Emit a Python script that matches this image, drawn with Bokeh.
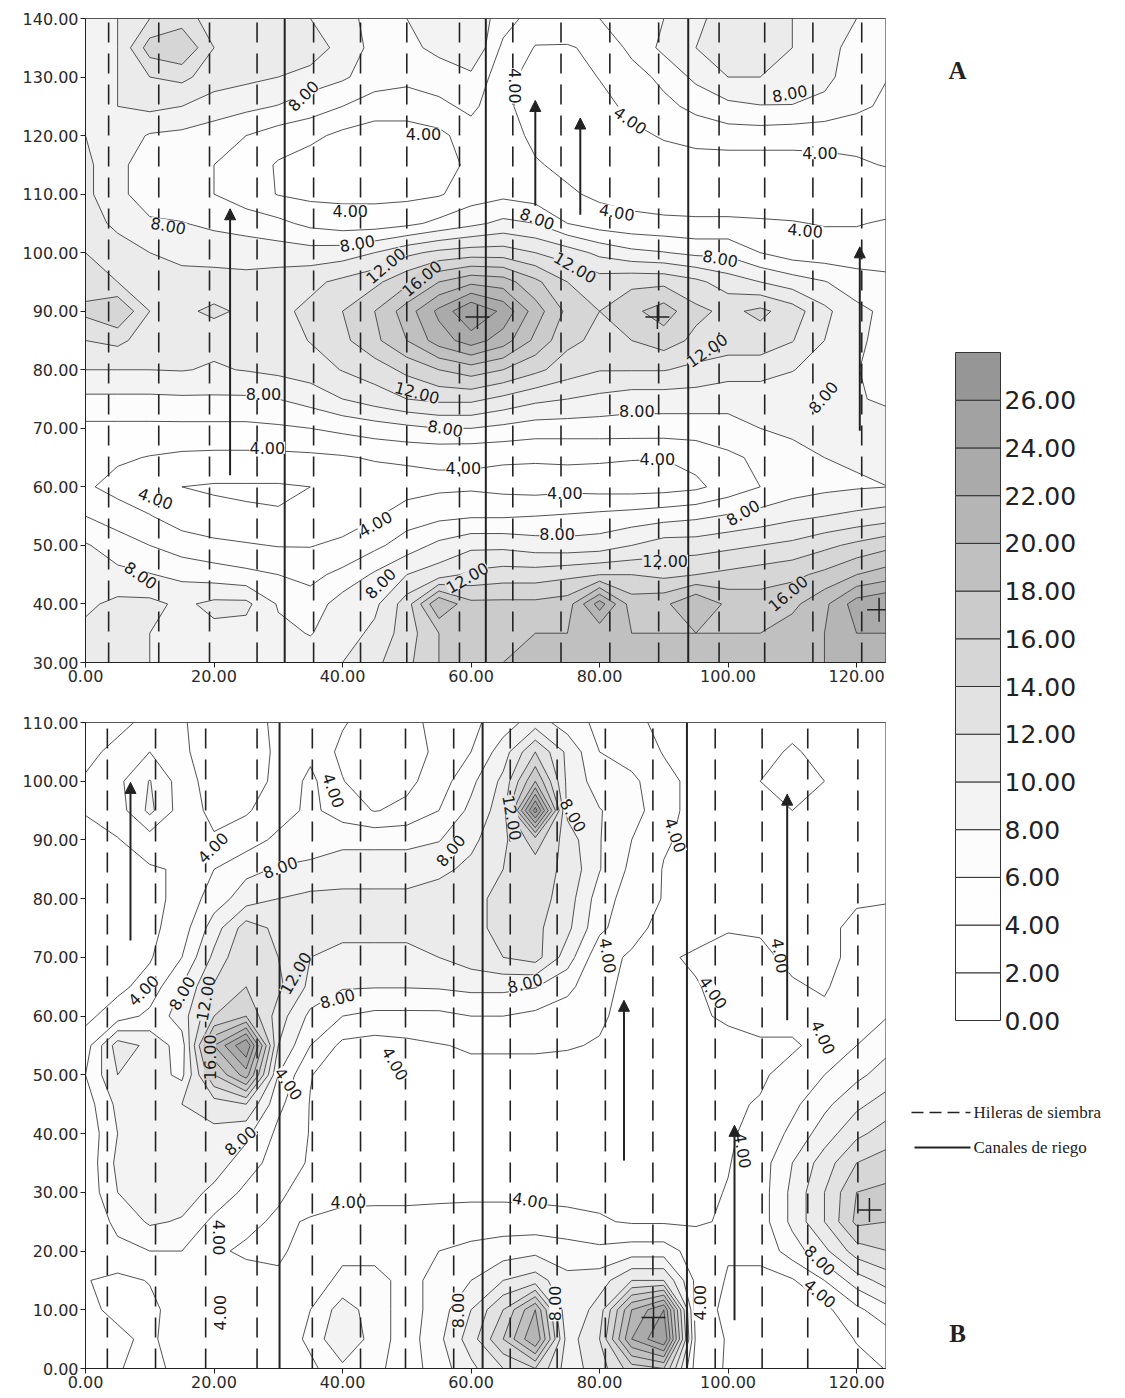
import numpy as np
from bokeh.plotting import figure
from bokeh.models import (Range1d, FixedTicker, NumeralTickFormatter,
                          Arrow, NormalHead, ColumnDataSource)
from bokeh.layouts import row, column
from bokeh.embed import file_html
from bokeh.resources import INLINE
from bokeh.core.properties import value

# ---------------------------------------------------------------- data
LEVELS = [0, 2, 4, 6, 8, 10, 12, 14, 16, 18, 20, 22, 24, 26, 28]
GREYS = ["#ffffff", "#ffffff", "#fefefe", "#fcfcfc", "#f3f3f3", "#ebebeb",
         "#e2e2e2", "#d6d6d6", "#cbcbcb", "#c0c0c0", "#b5b5b5", "#aaaaaa",
         "#a2a2a2", "#969696"]
CB_LABELS = [0, 2, 4, 6, 8, 10, 12, 14, 16, 18, 20, 22, 24, 26]

X_GRID = [0, 5, 10, 15, 20, 25, 30, 35, 40, 45, 50, 55, 60, 65, 70, 75, 80,
          85, 90, 95, 100, 105, 110, 115, 120, 125]

# Panel A grid (rows from y=140 down to y=30, columns x=0..125 step 5)
A_Y = [140, 135, 130, 125, 120, 115, 110, 105, 100, 95, 90, 85, 80, 75, 70,
       65, 60, 55, 50, 45, 40, 35, 30]
A_Z = [
    [9.5, 10, 12, 13, 11, 10.5, 10.5, 10, 8.5, 7.5, 8, 9, 9.5, 7, 5, 5.5, 6, 6.5, 8, 9.5, 11, 11, 10, 9, 8, 7],
    [8.5, 10, 15, 16, 12, 11.5, 11, 11.5, 9, 7.5, 7.5, 8.5, 10, 5.5, 3.9, 3.8, 4.5, 6.5, 8.5, 10, 12, 11, 10, 8.5, 7.5, 6.5],
    [9, 10, 12, 12.5, 11, 10.5, 10, 9, 8.3, 7, 6.5, 7, 7.5, 4.8, 3, 2.8, 4.1, 5.2, 6.5, 8.5, 10, 10, 9.5, 8.5, 7, 6],
    [9.5, 10, 10.5, 10, 9, 8.5, 7.9, 7, 6, 5, 5, 5.5, 6.5, 4.5, 3, 2.5, 3.2, 4.6, 5.5, 6.5, 7.5, 7.9, 7.9, 7.5, 6.5, 5.5],
    [10, 9.2, 7.8, 7.5, 7, 6, 5, 4.5, 3.5, 3, 3, 3.5, 5, 5, 3.5, 3, 3, 3.5, 4.2, 4.8, 5, 5, 4.8, 4.6, 4.5, 4.5],
    [10.5, 8.5, 7, 6.5, 6, 5, 3.8, 3, 2.5, 2.5, 2.5, 3, 4.5, 5, 4.2, 3.5, 3, 3, 3, 3, 3, 3, 3.2, 3.5, 3.8, 4.1],
    [10.5, 8.5, 7, 6.5, 6, 5, 3.9, 3.5, 3.5, 3.5, 3.5, 3.8, 5, 5.5, 5, 4.3, 3.6, 3.2, 3, 3, 3, 3, 3, 3, 3, 3],
    [11, 9.5, 8.3, 8.1, 7.5, 7, 6.5, 5.5, 5, 5, 5.5, 6.5, 7.5, 8.5, 8, 6, 5, 4.6, 4.4, 4.3, 4.3, 4.2, 4.1, 3.9, 3.9, 4.2],
    [12, 11, 10, 9.6, 9.5, 9.3, 9, 8.8, 9, 10, 11.5, 12.5, 13, 13, 12, 11, 9.5, 8.5, 8.1, 7.5, 7.5, 6, 5, 4.8, 4.8, 5],
    [13, 12, 11, 10.5, 10.5, 10.5, 11, 11.5, 12.5, 13.5, 15.5, 18, 19.5, 19, 16.5, 14, 13, 13.5, 13.5, 12.5, 11, 10, 9, 8.1, 7, 6.5],
    [14.5, 16, 12, 11.5, 12.5, 11.5, 11.5, 12.5, 14, 16, 19, 22.5, 26, 23.5, 19, 15.5, 14, 15.5, 17, 14.5, 13.5, 14.5, 13, 10.5, 8.5, 7.5],
    [12, 12.5, 11, 10.5, 10.5, 10.5, 11, 12.1, 13.5, 15.5, 18, 21, 23, 21, 17.5, 14.5, 13.5, 14, 15, 13.5, 13, 13, 12.1, 10, 8.5, 7],
    [10, 10, 10, 10.1, 9.8, 10.1, 10.5, 11, 12.1, 13, 14.5, 16, 17, 16, 14.5, 13, 12.1, 12.1, 12.1, 11.5, 11, 11, 10.1, 9, 8.1, 7],
    [7.6, 7.6, 7.6, 7.7, 7.7, 7.7, 8, 8.8, 10, 11, 12, 12.5, 12.5, 11.5, 10.5, 10, 9.5, 9, 9, 9, 8.5, 8.5, 8.5, 8.3, 8.1, 7.8],
    [5.5, 5.5, 5.5, 5.5, 5.5, 5.5, 5.7, 6, 6.5, 7, 7.5, 8, 8, 7.5, 7, 7, 7, 7, 7, 7, 7.5, 8, 8.3, 8.5, 8.5, 8.5],
    [4.6, 4.3, 3.9, 3.6, 3.5, 3.5, 3.5, 3.6, 3.8, 4.2, 4.3, 4.3, 4.2, 4.2, 4.2, 4.2, 4.2, 4.1, 4.05, 4.6, 5.5, 6.5, 7.5, 8, 8.2, 8.2],
    [4.3, 3.3, 2.5, 2, 1.8, 1.8, 1.8, 2, 2.2, 2.7, 3.2, 3.6, 3.7, 3.4, 3.2, 3.4, 3.2, 3.1, 3.2, 3.6, 4.8, 6, 7, 7.5, 7.8, 8],
    [6, 5, 4.1, 3, 2.5, 2.2, 2.1, 2.2, 2.8, 3.8, 5, 5.5, 5.8, 5.8, 6, 6.2, 6.5, 6.8, 7.2, 7.6, 8.2, 8.8, 9.5, 10, 10.5, 11],
    [8.2, 7, 6, 5, 4.5, 4.2, 3.9, 3.9, 4.5, 5.5, 7, 8.5, 9.5, 9.5, 9, 8.8, 9, 10, 11, 11, 11.5, 12, 12.5, 13.5, 14.5, 15.5],
    [9, 8.5, 8.1, 7.5, 7, 6.5, 6, 5.5, 6.5, 8.3, 10, 11, 12.5, 13, 13, 13.5, 14, 14, 13.5, 14, 14.5, 15, 15.5, 16.5, 18, 19],
    [9.6, 10.5, 10.5, 9.6, 10.5, 10.5, 7.8, 6.8, 9, 9.5, 13, 20, 16.5, 16.5, 16.5, 17, 23, 17, 17.5, 20, 17.5, 17, 17.5, 19.5, 23, 24],
    [10.5, 10.5, 10, 9.5, 9.5, 9.2, 8.5, 7.9, 9, 10.5, 13, 16, 17, 17.5, 18, 18, 18.5, 18, 18, 18, 18, 18, 19, 20, 22, 22],
    [10.5, 11, 10, 9, 9, 9, 9, 9, 10, 11.5, 13.5, 16, 17.5, 18, 18.5, 18.5, 18.5, 18.5, 18.5, 18.5, 18.5, 18.5, 19.5, 20, 21, 21],
]

# Panel B grid (rows from y=110 down to y=0)
B_Y = [110, 105, 100, 95, 90, 85, 80, 75, 70, 65, 60, 55, 50, 45, 40, 35,
       30, 25, 20, 15, 10, 5, 0]
B_Z = [
    [3, 3.5, 4.5, 4.2, 3, 3, 4.5, 5, 4.2, 3, 3.5, 4.5, 5.5, 7, 9, 7, 5.5, 4.5, 3.5, 3.5, 3.5, 3, 2.5, 3, 3.5, 3.5],
    [3.5, 4.5, 6, 4.5, 2.5, 2.5, 4.5, 5.5, 3.5, 2, 3, 4.5, 6, 9, 14, 9.5, 6, 5, 3.9, 3.5, 3, 2.5, 1.8, 2.5, 3.5, 3.5],
    [4.2, 5.5, 8.1, 5, 3, 3, 4.5, 6.5, 4.1, 2.5, 3.5, 5, 7.5, 10.5, 18, 9.5, 7, 6.5, 4.5, 3.5, 2.5, 2, 1.5, 2, 3.5, 3.9],
    [4.1, 5, 8.5, 5, 3.5, 3.8, 5, 6.5, 5, 3.9, 4.5, 6, 8.5, 11, 27, 9.5, 8.1, 7, 4.5, 3.5, 3, 2.3, 2, 2.5, 3.5, 3.9],
    [3.5, 3.9, 5, 4.5, 4.2, 5, 6.5, 7, 7.5, 7.5, 7.5, 7.9, 9.5, 11.5, 15, 11, 8.1, 6, 4.2, 3.5, 3, 2.5, 2.5, 3, 3.5, 3.9],
    [3, 3.5, 3.8, 4.2, 6, 7.5, 8.2, 8.5, 9, 9, 9, 9.5, 10.5, 12, 13, 11.5, 8.1, 5.5, 3.9, 3.5, 3, 3, 3, 3.5, 3.9, 3.9],
    [2.5, 3, 3.5, 4.5, 7, 9, 10, 10.5, 10.5, 10.5, 10.5, 11, 11.5, 12.5, 13, 11, 7, 5, 3.9, 3.5, 3.5, 3.5, 3.5, 3.5, 3.9, 3.9],
    [2.5, 3, 3.5, 5, 9, 13, 11.5, 10.5, 10.5, 10.5, 10.5, 11, 11.5, 12.5, 12.5, 10.5, 6.5, 4.5, 3.5, 3.5, 3.9, 3.9, 3.8, 3.8, 4.2, 4.5],
    [2.5, 3, 3.8, 6, 10.5, 14, 12, 10, 9.5, 9.5, 9.5, 10, 11, 12, 12.8, 9, 4.5, 3.8, 3.8, 4.2, 4.5, 4.2, 3.8, 3.8, 4.2, 4.5],
    [3, 3.5, 4.8, 8.1, 12.2, 14, 12.5, 9.5, 8.2, 8.1, 8.1, 8.2, 8.5, 8.5, 8.1, 6.5, 4.5, 3.5, 3.5, 3.9, 4.5, 4.5, 4.1, 3.9, 4.5, 5],
    [3.5, 5, 6.5, 9, 14, 16, 11, 7.5, 6, 5.5, 5.5, 5.5, 6, 6, 5.5, 5, 4.2, 3.5, 3.5, 3.8, 4.2, 4.5, 4.5, 4.2, 5, 6],
    [5, 11, 9.5, 7, 20, 26, 10, 6, 3.5, 3.2, 3.5, 3.9, 4.2, 4.2, 4.2, 4.1, 3.9, 3.5, 3.2, 3.3, 3.6, 3.8, 3.8, 4.5, 6, 7.5],
    [6, 10, 9, 7.5, 16, 21, 8, 4.1, 2.8, 3, 3.5, 3.5, 3.5, 3.5, 3.5, 3.5, 3.8, 3, 3, 3.2, 3.6, 3.8, 4.5, 6, 7.5, 9],
    [5, 8.5, 9.5, 10, 11, 12, 6.5, 3.9, 3, 3, 3.2, 3.2, 3.2, 3.2, 3.2, 3.3, 3.6, 3, 3, 3.2, 3.8, 4.1, 5.5, 7.5, 9.5, 11],
    [4.5, 8, 9.5, 9.5, 9.5, 8.5, 5.5, 3.9, 3.5, 3.2, 3, 3, 3, 3, 3, 3.2, 3.5, 3, 3, 3, 3.8, 4.5, 6.5, 9, 11.5, 13],
    [4.5, 8.5, 9.5, 9.5, 9, 7, 5, 3.8, 3.2, 3, 3, 3, 3, 3, 3, 3.2, 3.5, 3, 3, 3.2, 3.9, 5, 8, 11, 14, 15],
    [4.5, 8, 9, 9, 7.5, 5.5, 4.2, 3.5, 3.5, 3.5, 3.5, 3.5, 3.5, 3.5, 3.5, 3.5, 3.5, 3.3, 3.3, 3.5, 4.1, 5, 8.5, 12, 16, 16.5],
    [4.5, 6.5, 8.3, 7.8, 5.5, 4.3, 3.8, 4.1, 4.5, 4.6, 4.6, 4.8, 5, 5, 4.8, 4.5, 4.2, 3.8, 3.8, 3.8, 4.2, 5, 8.5, 12, 16.5, 16],
    [4.5, 5.5, 6, 6, 4.2, 3.8, 3.8, 4.5, 5.5, 5.5, 5.5, 6, 6.5, 7, 7.5, 7, 6.5, 7, 7, 5, 4.2, 4.5, 7, 9.5, 13, 14],
    [4.1, 3.5, 4.1, 5, 5, 4.5, 4.2, 5, 6.5, 6.5, 5.5, 6.5, 8, 10, 11, 8.5, 9, 12, 12, 5.5, 3.8, 3.5, 3.8, 6, 9, 11],
    [4.5, 3.5, 3.5, 5, 5.5, 5, 4.2, 6, 9, 7, 5, 7, 10, 14, 20, 8, 11, 20, 24, 5, 3.5, 3, 3, 3.5, 5.5, 7.5],
    [4.5, 4.5, 3.5, 5.5, 6, 5.5, 4.5, 6.5, 10, 7, 5, 7.5, 11, 16, 22, 9, 12, 22, 26, 5.5, 3.8, 3.5, 3, 3, 4.1, 5],
    [4.1, 4.1, 3.5, 4.5, 5, 5, 4.5, 5.5, 7.5, 6.5, 5, 7, 9.5, 12, 14, 9, 11, 15, 16, 5, 3.8, 3.5, 3, 3, 3.5, 4.1],
]

X_TICKS = [0, 20, 40, 60, 80, 100, 120]
A_YTICKS = [30, 40, 50, 60, 70, 80, 90, 100, 110, 120, 130, 140]
B_YTICKS = [0, 10, 20, 30, 40, 50, 60, 70, 80, 90, 100, 110]

# planting rows (dashed) and irrigation channels (solid)
A_ROWS = [3.6, 11.4, 19.3, 26.7, 35.5, 42.8, 50.0, 58.2, 66.5, 74.0, 81.6,
          89.2, 98.6, 105.7, 113.2, 120.8]
A_CHANNELS = [31.0, 62.3, 93.8]
B_ROWS = [3.4, 10.9, 18.7, 26.7, 35.3, 42.8, 49.8, 57.3, 66.1, 73.4, 80.9,
          88.3, 98.0, 105.3, 112.4, 120.2]
B_CHANNELS = [30.2, 61.8, 93.6]

# flow arrows
A_ARROW_X = [22.5, 70.0, 77.0, 120.5]
A_ARROW_Y0 = [62.0, 108.0, 106.5, 69.6]
A_ARROW_Y1 = [107.5, 126.0, 123.0, 101.0]
B_ARROW_X = [7.0, 83.8, 101.0, 109.2]
B_ARROW_Y0 = [72.9, 35.4, 8.2, 59.3]
B_ARROW_Y1 = [99.8, 62.7, 41.4, 97.8]

# maxima marks
A_CROSS_X = [61.0, 89.0, 123.5]
A_CROSS_Y = [89.0, 89.0, 39.0]
B_CROSS_X = [122.0, 88.4]
B_CROSS_Y = [27.0, 8.7]

# contour labels
A_LAB_X = [33.9, 66.9, 84.8, 109.6, 114.3, 41.2, 52.6, 12.9, 42.3, 46.7, 52.3,
           70.3, 76.2, 82.7, 98.8, 112.0, 27.7, 28.3, 10.9, 8.6, 45.1, 45.9,
           51.6, 56.0, 58.8, 59.4, 73.4, 74.6, 89.0, 85.8, 90.2, 102.3, 109.3,
           96.7, 114.8]
A_LAB_Y = [126.8, 128.5, 122.6, 127.2, 117.0, 107.2, 120.3, 104.6, 101.6, 97.8,
           95.6, 105.8, 97.5, 106.9, 99.0, 103.8, 75.9, 66.7, 58.0, 44.9, 53.7,
           43.5, 76.1, 70.0, 63.3, 44.5, 52.0, 58.9, 64.8, 73.0, 47.4, 55.6,
           41.8, 83.3, 75.3]
A_LAB_T = ["8.00", "4.00", "4.00", "8.00", "4.00", "4.00", "4.00", "8.00",
           "8.00", "12.00", "16.00", "8.00", "12.00", "4.00", "8.00", "4.00",
           "8.00", "4.00", "4.00", "8.00", "4.00", "8.00", "12.00", "8.00",
           "4.00", "12.00", "8.00", "4.00", "4.00", "8.00", "12.00", "8.00",
           "16.00", "12.00", "8.00"]
A_LAB_A = [45, -90, -35, 10, 0, 0, 0, -10, 10, 40, 40, -20, -30, -10, -10, -5,
           0, 0, -20, -35, 30, 45, -15, -10, 0, 30, 0, 0, 0, 0, 0, 30, 40, 35, 50]

B_LAB_X = [19.8, 30.3, 38.6, 9.0, 15.0, 18.7, 32.7, 39.2, 19.4, 31.6, 24.1,
           20.7, 40.9, 21.0, 48.2, 66.4, 75.9, 56.8, 91.8, 68.4, 81.3, 97.7,
           108.1, 114.8, 69.2, 102.3, 58.0, 73.1, 95.6, 114.3, 114.3]
B_LAB_Y = [88.7, 85.3, 98.4, 64.4, 63.9, 63.0, 67.3, 63.0, 53.0, 48.5, 38.8,
           22.3, 28.3, 9.5, 51.9, 93.8, 94.2, 88.2, 90.8, 65.6, 70.3, 64.0,
           70.3, 56.4, 28.6, 37.1, 9.9, 11.1, 11.2, 18.4, 12.8]
B_LAB_T = ["4.00", "8.00", "4.00", "4.00", "8.00", "12.00", "12.00", "8.00",
           "16.00", "4.00", "8.00", "4.00", "4.00", "4.00", "4.00", "12.00",
           "8.00", "8.00", "4.00", "8.00", "4.00", "4.00", "4.00", "4.00",
           "4.00", "4.00", "8.00", "8.00", "4.00", "8.00", "4.00"]
B_LAB_A = [45, 20, -70, 45, 60, 80, 60, 15, 90, -55, 40, -90, 0, 90, -60, -80,
           -60, 50, -70, 15, -80, -55, -80, -65, -10, -80, 90, 90, 90, -45, -40]

LEGEND_TEXT = ["Hileras de siembra", "Canales de riego"]

# ---------------------------------------------------------------- style
FONT = "DejaVu Sans"
INK = "#222222"
LABEL_BG = {"4.00": "#ffffff", "8.00": "#f7f7f7", "12.00": "#e6e6e6",
            "16.00": "#d0d0d0"}


def style_axis(ax, ticks):
    ax.ticker = FixedTicker(ticks=ticks)
    ax.formatter = NumeralTickFormatter(format="0.00")
    ax.major_tick_in = 0
    ax.minor_tick_in = 0
    ax.minor_tick_out = 0
    ax.axis_line_color = INK
    ax.major_tick_line_color = INK
    ax.major_tick_out = 5
    ax.major_label_standoff = 2
    ax.major_label_text_font = FONT
    ax.major_label_text_font_size = "16px"
    ax.major_label_text_color = "#2a2a2a"


def panel(zrows, ygrid, y0, y1, yticks, height, btop, bbot, rows_x, chan_x,
          ax_x, ay0, ay1, cx, cy, lx, ly, lt, la):
    p = figure(width=895, height=height, x_range=Range1d(0, 124.5),
               y_range=Range1d(y0, y1), output_backend="svg",
               toolbar_location=None, min_border_left=85, min_border_right=10,
               min_border_top=btop, min_border_bottom=bbot,
               outline_line_color=INK, background_fill_color="white")
    p.grid.visible = False
    style_axis(p.xaxis[0], X_TICKS)
    style_axis(p.yaxis[0], yticks)

    z = np.array(zrows, dtype=float)[::-1]
    ys = np.array(ygrid, dtype=float)[::-1]
    p.contour(x=np.array(X_GRID, dtype=float), y=ys, z=z, levels=LEVELS,
              fill_color=GREYS, line_color="#3e3e3e", line_width=0.9)

    n = len(rows_x)
    p.segment(x0=rows_x, y0=[y0] * n, x1=rows_x, y1=[y1] * n,
              line_color=INK, line_width=1.6, line_dash="20 11")
    m = len(chan_x)
    p.segment(x0=chan_x, y0=[y0] * m, x1=chan_x, y1=[y1] * m,
              line_color=INK, line_width=2.0)

    src = ColumnDataSource(dict(x=ax_x, y0=ay0, y1=ay1))
    p.add_layout(Arrow(source=src, x_start="x", y_start="y0", x_end="x",
                       y_end="y1", line_color=INK, line_width=2,
                       end=NormalHead(size=11, fill_color=INK, line_color=INK)))

    p.scatter(cx, cy, marker="cross", size=24, line_color=INK, line_width=1.5)

    for key, bg in LABEL_BG.items():
        idx = [i for i, t in enumerate(lt) if t == key]
        if not idx:
            continue
        p.text(x=[lx[i] for i in idx], y=[ly[i] for i in idx],
               text=[lt[i] for i in idx], angle=[la[i] for i in idx],
               angle_units="deg", text_font=value(FONT),
               text_font_size="16px", text_color="#1a1a1a",
               text_align="center", text_baseline="middle",
               background_fill_color=bg)
    return p


# page layout: panel A frame spans page y 18..662, panel B frame 722..1368
pa = panel(A_Z, A_Y, 30, 140, A_YTICKS, 692, 18, 30, A_ROWS, A_CHANNELS,
           A_ARROW_X, A_ARROW_Y0, A_ARROW_Y1, A_CROSS_X, A_CROSS_Y,
           A_LAB_X, A_LAB_Y, A_LAB_T, A_LAB_A)
pb = panel(B_Z, B_Y, 0, 110, B_YTICKS, 702, 30, 26, B_ROWS, B_CHANNELS,
           B_ARROW_X, B_ARROW_Y0, B_ARROW_Y1, B_CROSS_X, B_CROSS_Y,
           B_LAB_X, B_LAB_Y, B_LAB_T, B_LAB_A)

# ---------------------------------------------------------------- right side
TOTAL_H = 692 + 702
CB_TOP_PX, CB_BOT_PX = 352.0, 1020.0
PX_PER_LEVEL = (CB_BOT_PX - CB_TOP_PX) / (LEVELS[-1] - LEVELS[0])


def lev(page_y):
    return (CB_BOT_PX - page_y) / PX_PER_LEVEL


pr = figure(width=222, height=TOTAL_H, x_range=Range1d(895, 1117),
            y_range=Range1d(lev(TOTAL_H), lev(0)), output_backend="svg",
            toolbar_location=None, min_border=0, outline_line_color=None,
            x_axis_location=None, y_axis_location=None)
pr.grid.visible = False

pr.quad(left=955, right=1000, bottom=LEVELS[:-1], top=LEVELS[1:],
        fill_color=GREYS, line_color="#333333", line_width=1)
pr.text(x=[1004] * len(CB_LABELS), y=CB_LABELS,
        text=[f"{v:.2f}" for v in CB_LABELS], text_font=value(FONT),
        text_font_size="25px", text_color=INK, text_baseline="middle",
        text_align="left")
pr.text(x=[957, 957], y=[lev(70), lev(1333)], text=["A", "B"],
        text_font=value("Liberation Serif"), text_font_style="bold",
        text_font_size="25px", text_color=INK, text_align="center",
        text_baseline="middle")

pr.line(x=[911, 970], y=[lev(1112)] * 2, line_color=INK, line_width=1.6,
        line_dash="12 6")
pr.line(x=[914, 970], y=[lev(1147)] * 2, line_color=INK, line_width=2)
pr.text(x=[973, 973], y=[lev(1112), lev(1147)], text=LEGEND_TEXT,
        text_font=value("Liberation Serif"), text_font_size="17px",
        text_color=INK, text_baseline="middle", text_align="left")

layout = row(column(pa, pb), pr)

open("out.html", "w").write(file_html(layout, INLINE))
